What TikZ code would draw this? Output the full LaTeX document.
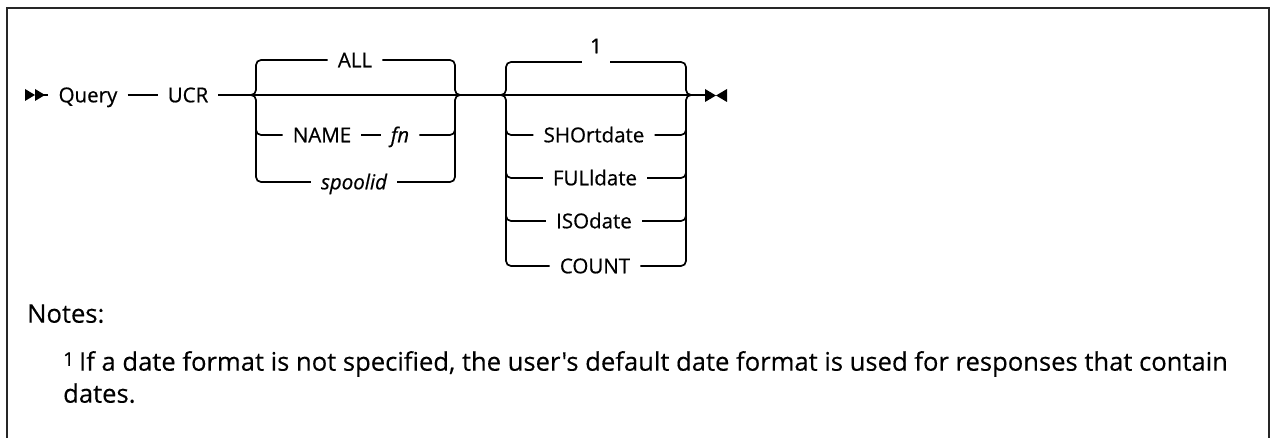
\documentclass[tikz,border=0pt]{standalone}
\usepackage{fontspec}
\setmainfont{Open Sans}
\newfontfamily\dfont[FakeBold=0.6]{Open Sans}
\newfontfamily\nfont[FakeBold=0.3]{Open Sans}
\usetikzlibrary{calc}
\begin{document}
\begin{tikzpicture}[x=1pt,y=-1pt,
  lbl/.style={font=\dfont\fontsize{20.5}{24}\selectfont, inner xsep=10pt, inner ysep=0pt, text height=14.6pt, text depth=0pt},
  gap/.style={inner sep=0pt, minimum width=28pt, minimum height=2pt},
  rail/.style={line width=1.7pt, rounded corners=5pt},
  tipshape/.style={fill=black, draw=none},
  frame/.style={line width=2pt, draw=black!85},
  note/.style={font=\nfont\fontsize{25.6}{32}\selectfont, inner sep=0pt, anchor=base west}]
\useasboundingbox (0,0) rectangle (1274,438);
\draw[frame] (7,438) -- (7,8) -- (1269,8) -- (1269,438);

% start marker
\coordinate (s1) at (43,95);
\fill[tipshape] (25,89) -- (35,95) -- (25,101) -- cycle;
\fill[tipshape] (35,89) -- (45,95) -- (35,101) -- cycle;

% main nodes
\node[lbl] (query) at (88,95) {Query};
\node[lbl] (ucr) at (188,95) {UCR};

% group 1
\coordinate (g1in) at (248,95);
\coordinate (g1L) at (256,95);
\coordinate (g1Lb) at (256,112);
\coordinate (g1R) at (455,95);
\coordinate (g1Rb) at (455,112);
\coordinate (g1out) at (462,95);
\node[lbl] (all) at (355,60) {ALL};
\node[lbl] (name) at (322,135) {NAME};
\node[lbl] (fn) at (400,135) {\itshape fn};
\node[lbl] (spool) at (354,182) {\itshape spoolid};

% group 2
\coordinate (g2in) at (499,95);
\coordinate (g2L) at (506,95);
\coordinate (g2Lb) at (506,112);
\coordinate (g2R) at (686,95);
\coordinate (g2Rb) at (686,112);
\coordinate (g2out) at (693,95);
\node[gap] (dflt) at (596,62) {};
\node[lbl] (one) at (596,46) {1};
\node[lbl] (short) at (594,135) {SHOrtdate};
\node[lbl] (full) at (595,178) {FULldate};
\node[lbl] (iso) at (594,221) {ISOdate};
\node[lbl] (count) at (595,266) {COUNT};

\coordinate (e0) at (706,95);

% main line
\draw[rail] (s1) -- (query.west);
\draw[rail] (query.east) -- (ucr.west);
\draw[rail] (ucr.east) -- (g1in) -- (g1out) -- (g2in) -- (g2out) -- (e0);

% group 1 rails
\draw[rail] (g1in) -| (all.west -| g1L) -- (all.west);
\draw[rail] (all.east) -| (g1R) -- (g1out);
\draw[rail] (g1in) -| (spool.west -| g1L) -- (spool.west);
\draw[rail] (spool.east) -| (g1R) -- (g1out);
\draw[rail] (g1Lb) |- (name.west);
\draw[rail] (name.east) -- (fn.west);
\draw[rail] (fn.east) -| (g1Rb);

% group 2 rails
\draw[rail] (g2in) -| (dflt.west -| g2L) -- (dflt.west);
\draw[rail] (dflt.east) -| (g2R) -- (g2out);
\draw[rail] (g2in) -| (count.west -| g2L) -- (count.west);
\draw[rail] (count.east) -| (g2R) -- (g2out);
\foreach \n in {short,full,iso}{
  \draw[rail] (g2Lb) |- (\n.west);
  \draw[rail] (\n.east) -| (g2Rb);
}

% end marker
\fill[tipshape] (705,89) -- (716,95.5) -- (705,102) -- cycle;
\fill[tipshape] (727,89) -- (716,95.5) -- (727,102) -- cycle;

% notes
\node[note] (notes) at (27,322.7) {Notes:};
\node[note] (fnote) at (63,370.7) {\raisebox{0.35ex}{\fontsize{19}{20}\selectfont 1}\kern5pt If a date format is not specified, the user{\char"0027}s default date format is used for responses that contain};
\node[note] (fnote2) at (63,402.7) {dates.};
\end{tikzpicture}
\end{document}
